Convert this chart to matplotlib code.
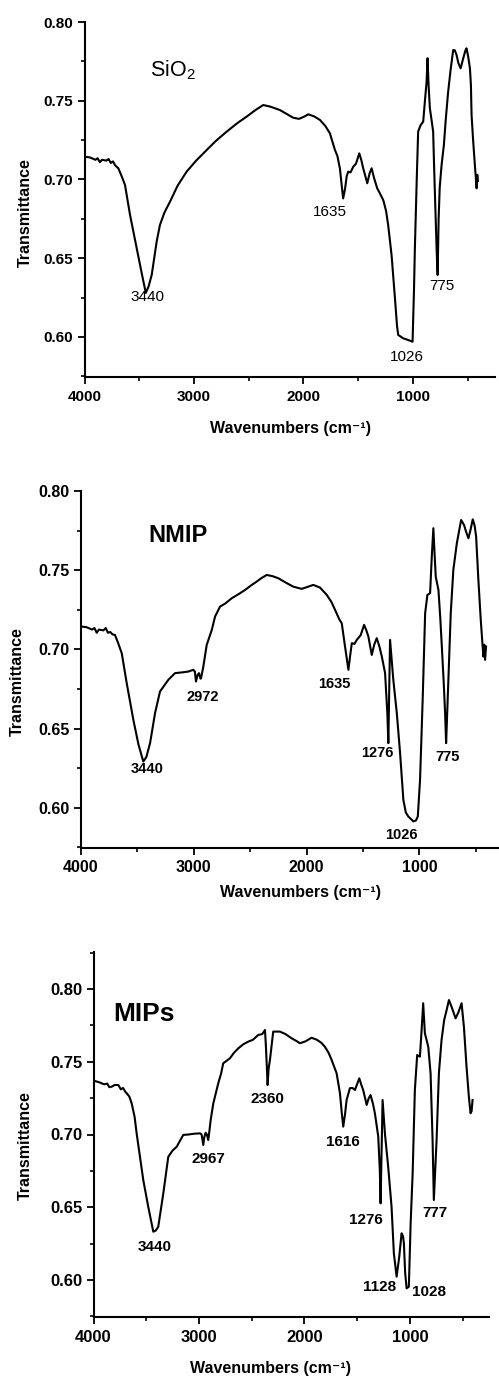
import matplotlib
matplotlib.use('Agg')
import matplotlib.pyplot as plt
from matplotlib.ticker import MultipleLocator, FormatStrFormatter

plt.rcParams['font.family'] = ['Liberation Sans', 'DejaVu Sans']
plt.rcParams['mathtext.default'] = 'regular'

# ---- data ----
sio2_wn = [4000, 3950, 3900, 3880, 3860, 3840, 3800, 3780, 3760, 3740, 3720, 3691, 3660, 3630,
           3584, 3523, 3470, 3440, 3415, 3386, 3341, 3311, 3270, 3219, 3150, 3067, 2980, 2884,
           2800, 2701, 2600, 2519, 2440, 2367, 2300, 2215, 2150, 2093, 2040, 1990, 1956, 1900,
           1849, 1800, 1758, 1712, 1690, 1667, 1650, 1637, 1620, 1605, 1591, 1570, 1545, 1520,
           1490, 1470, 1454, 1430, 1417, 1395, 1377, 1355, 1326, 1300, 1271, 1245, 1226, 1195,
           1164, 1145, 1134, 1089, 1040, 1003, 990, 982, 965, 952, 930, 906, 890, 875, 866, 857,
           845, 830, 815, 805, 793, 783, 774, 765, 755, 738, 717, 700, 678, 655, 632, 617, 601,
           585, 564, 540, 520, 510, 495, 479, 470, 464, 450, 434, 418, 412, 406]
sio2_t = [0.7145, 0.714, 0.7125, 0.7135, 0.711, 0.7125, 0.712, 0.713, 0.7105, 0.7115, 0.709,
          0.7071, 0.702, 0.6965, 0.6775, 0.6563, 0.638, 0.628, 0.632, 0.6394, 0.6605, 0.6711,
          0.679, 0.6859, 0.696, 0.705, 0.712, 0.7187, 0.7245, 0.7304, 0.736, 0.7399, 0.744,
          0.7473, 0.7462, 0.7441, 0.7415, 0.7392, 0.7385, 0.740, 0.7414, 0.740, 0.7378, 0.734,
          0.7293, 0.7187, 0.715, 0.7071, 0.696, 0.688, 0.694, 0.702, 0.705, 0.7045, 0.7081,
          0.710, 0.7166, 0.712, 0.7071, 0.701, 0.6976, 0.704, 0.7071, 0.701, 0.6944, 0.691,
          0.687, 0.680, 0.6711, 0.6521, 0.6246, 0.607, 0.6013, 0.5992, 0.598, 0.597, 0.630,
          0.6563, 0.700, 0.7304, 0.7345, 0.7367, 0.750, 0.7621, 0.777, 0.760, 0.7452, 0.738,
          0.7304, 0.705, 0.6775, 0.655, 0.6394, 0.675, 0.695, 0.7092, 0.7219, 0.738, 0.7557,
          0.770, 0.7822, 0.782, 0.779, 0.774, 0.7706, 0.777, 0.782, 0.7833, 0.778, 0.7706,
          0.760, 0.741, 0.725, 0.7092, 0.6944, 0.703, 0.699]

nmip_wn = [4000, 3950, 3900, 3880, 3860, 3840, 3800, 3780, 3760, 3740, 3720, 3698, 3670, 3638,
           3594, 3535, 3490, 3447, 3420, 3387, 3343, 3299, 3225, 3166, 3100, 3048, 3004, 2990,
           2980, 2965, 2953, 2940, 2935, 2915, 2885, 2840, 2811, 2767, 2720, 2663, 2600, 2545,
           2490, 2442, 2400, 2353, 2300, 2250, 2180, 2117, 2043, 1990, 1940, 1880, 1821, 1780,
           1747, 1710, 1688, 1659, 1629, 1610, 1599, 1575, 1555, 1520, 1490, 1470, 1452, 1422,
           1400, 1378, 1355, 1333, 1304, 1284, 1275, 1260, 1231, 1200, 1171, 1142, 1120, 1098,
           1053, 1030, 1014, 994, 970, 949, 929, 905, 890, 876, 865, 855, 831, 815, 801, 785,
           772, 763, 743, 722, 699, 668, 645, 630, 604, 585, 565, 545, 527, 510, 497, 477, 456,
           433, 425, 418, 409]
nmip_t = [0.7145, 0.714, 0.7125, 0.7135, 0.7105, 0.7125, 0.712, 0.7135, 0.7105, 0.711, 0.7095,
          0.7091, 0.704, 0.6976, 0.6787, 0.6555, 0.640, 0.6292, 0.632, 0.6408, 0.6597, 0.6734,
          0.6808, 0.685, 0.6855, 0.686, 0.6871, 0.686, 0.6797, 0.684, 0.685, 0.6815, 0.6818,
          0.6891, 0.7028, 0.7123, 0.7207, 0.727, 0.729, 0.7323, 0.735, 0.7375, 0.7405, 0.7428,
          0.745, 0.747, 0.7462, 0.7449, 0.742, 0.7396, 0.7382, 0.7395, 0.7407, 0.739, 0.7344,
          0.730, 0.7249, 0.719, 0.7165, 0.7018, 0.6871, 0.698, 0.7039, 0.7035, 0.706, 0.709,
          0.7155, 0.712, 0.7081, 0.6965, 0.703, 0.7071, 0.702, 0.6955, 0.685, 0.6597, 0.6408,
          0.706, 0.6808, 0.6597, 0.6345, 0.605, 0.597, 0.5945, 0.5914, 0.592, 0.5945, 0.6177,
          0.6702, 0.7228, 0.7344, 0.7355, 0.7586, 0.7765, 0.760, 0.7459, 0.7375, 0.720, 0.7018,
          0.680, 0.6597, 0.6408, 0.6808, 0.7228, 0.7502, 0.767, 0.776, 0.7817, 0.7785, 0.774,
          0.7702, 0.776, 0.7821, 0.778, 0.7712, 0.7438, 0.7186, 0.6955, 0.703, 0.6934, 0.7018]

mips_wn = [4000, 3950, 3900, 3870, 3850, 3827, 3800, 3765, 3740, 3720, 3700, 3685, 3660, 3638,
           3610, 3591, 3528, 3480, 3433, 3410, 3386, 3338, 3291, 3250, 3211, 3149, 3100, 3050,
           2991, 2975, 2959, 2950, 2937, 2925, 2912, 2900, 2889, 2864, 2817, 2790, 2770, 2740,
           2706, 2670, 2627, 2580, 2533, 2490, 2460, 2438, 2400, 2374, 2365, 2349, 2340, 2327,
           2310, 2296, 2232, 2180, 2121, 2070, 2043, 1990, 1932, 1880, 1840, 1806, 1770, 1742,
           1695, 1663, 1645, 1632, 1615, 1600, 1569, 1545, 1521, 1480, 1460, 1443, 1410, 1390,
           1373, 1350, 1332, 1300, 1285, 1278, 1268, 1259, 1237, 1206, 1174, 1152, 1126, 1101,
           1079, 1065, 1057, 1045, 1031, 1010, 993, 974, 953, 931, 905, 889, 874, 858, 826, 804,
           785, 773, 760, 747, 725, 700, 675, 650, 630, 605, 567, 540, 510, 488, 463, 441, 425,
           415, 406]
mips_t = [0.737, 0.736, 0.7345, 0.735, 0.7325, 0.7329, 0.734, 0.734, 0.731, 0.732, 0.7295,
          0.7283, 0.726, 0.7214, 0.712, 0.7008, 0.6687, 0.650, 0.6332, 0.634, 0.6366, 0.6596,
          0.6847, 0.689, 0.6916, 0.6997, 0.700, 0.7005, 0.7008, 0.700, 0.6928, 0.698, 0.7012,
          0.700, 0.6962, 0.703, 0.710, 0.7214, 0.7352, 0.742, 0.7489, 0.7505, 0.7524, 0.756,
          0.7592, 0.762, 0.7638, 0.765, 0.767, 0.7684, 0.769, 0.7718, 0.7603, 0.734, 0.745,
          0.7512, 0.762, 0.7707, 0.7707, 0.769, 0.7661, 0.764, 0.7627, 0.764, 0.7665, 0.765,
          0.763, 0.7603, 0.756, 0.7512, 0.7421, 0.7283, 0.714, 0.7054, 0.714, 0.7237, 0.7318,
          0.732, 0.7306, 0.7386, 0.734, 0.7306, 0.7203, 0.725, 0.7271, 0.721, 0.7146, 0.6985,
          0.675, 0.6527, 0.690, 0.7237, 0.7008, 0.6779, 0.6504, 0.6183, 0.6023, 0.616, 0.6321,
          0.630, 0.6252, 0.605, 0.5943, 0.5954, 0.639, 0.6733, 0.7306, 0.7546, 0.7535, 0.7718,
          0.7902, 0.7696, 0.7603, 0.7421, 0.6962, 0.655, 0.675, 0.6962, 0.7421, 0.7649, 0.7787,
          0.786, 0.7924, 0.7878, 0.7798, 0.784, 0.7902, 0.7741, 0.7466, 0.726, 0.7146, 0.716,
          0.7237]

# peak labels: text, x, y
sio2_labels = ['3440', '1635', '1026', '775']
sio2_lx = [3429, 1758, 1055, 735]
sio2_ly = [0.6254, 0.6794, 0.5873, 0.6324]

nmip_labels = ['3440', '2972', '1635', '1276', '775', '1026']
nmip_lx = [3414, 2918, 1756, 1375, 746, 1162]
nmip_ly = [0.6246, 0.670, 0.6782, 0.6347, 0.6322, 0.5830]

mips_labels = ['3440', '2967', '2360', '1616', '1276', '777', '1128', '1028']
mips_lx = [3417, 2915, 2355, 1635, 1417, 763, 1284, 820]
mips_ly = [0.6227, 0.6832, 0.7244, 0.6948, 0.6412, 0.646, 0.5952, 0.5918]

W, H = 499, 1378
fig = plt.figure(figsize=(W / 100, H / 100), dpi=100, facecolor='white')


def panel(px, wn, t, ylim, labels, lx, ly, ann_kw, title, title_kw, tick_fs,
          xlab_px, ylab_px):
    left, right, top, bottom = px
    w, h = right - left, bottom - top
    ax = fig.add_axes([left / W, 1 - bottom / H, w / W, h / H])
    ax.plot(wn, t, color='black', lw=1.5)
    ax.set_xlim(4000, 250)
    ax.set_ylim(*ylim)
    ax.xaxis.set_major_locator(MultipleLocator(1000))
    ax.xaxis.set_minor_locator(MultipleLocator(500))
    ax.yaxis.set_major_locator(MultipleLocator(0.05))
    ax.yaxis.set_minor_locator(MultipleLocator(0.025))
    ax.yaxis.set_major_formatter(FormatStrFormatter('%.2f'))
    for s in ['top', 'right']:
        ax.spines[s].set_visible(False)
    for s in ['left', 'bottom']:
        ax.spines[s].set_linewidth(1.5)
    ax.tick_params(which='major', direction='out', length=5, width=1.3,
                   labelsize=tick_fs)
    ax.tick_params(which='minor', direction='out', length=3, width=1.2)
    ax.tick_params(axis='y', pad=3)
    ax.tick_params(axis='x', pad=4)
    for lab in ax.get_xticklabels() + ax.get_yticklabels():
        lab.set_fontweight('bold')
    ax.set_xlabel('Wavenumbers (cm⁻¹)', fontsize=11.5, fontweight='bold', va='center')
    ax.set_ylabel('Transmittance', fontsize=11.5, fontweight='bold', va='center')
    # label centres given in figure pixels
    ax.xaxis.set_label_coords((xlab_px[0] - left) / w, -(xlab_px[1] - bottom) / h)
    ax.yaxis.set_label_coords((ylab_px[0] - left) / w, (bottom - ylab_px[1]) / h)
    for s, x, y in zip(labels, lx, ly):
        ax.text(x, y, s, ha='center', va='center', **ann_kw)
    ax.text(title[1], title[2], title[0], ha='left', va='center', **title_kw)
    return ax


panel((84.5, 495, 22, 377), sio2_wn, sio2_t, (0.5746, 0.80),
      sio2_labels, sio2_lx, sio2_ly,
      dict(fontsize=11, family=['Liberation Sans Narrow', 'Liberation Sans']),
      ('SiO$_2$', 3402, 0.7695), dict(fontsize=15.5), 11,
      (290, 428), (25, 213))

panel((80.9, 504, 491, 848), nmip_wn, nmip_t, (0.5746, 0.80),
      nmip_labels, nmip_lx, nmip_ly,
      dict(fontsize=10.5, fontweight='bold'),
      ('NMIP', 3405, 0.7716), dict(fontsize=17, fontweight='bold'), 11.5,
      (300, 892), (17, 682))

panel((93.5, 489, 952, 1317), mips_wn, mips_t, (0.5746, 0.8254),
      mips_labels, mips_lx, mips_ly,
      dict(fontsize=11, fontweight='bold'),
      ('MIPs', 3815, 0.7828), dict(fontsize=19, fontweight='bold'), 12,
      (270, 1369), (25, 1146))

fig.savefig('out.png', dpi=100, facecolor='white')
